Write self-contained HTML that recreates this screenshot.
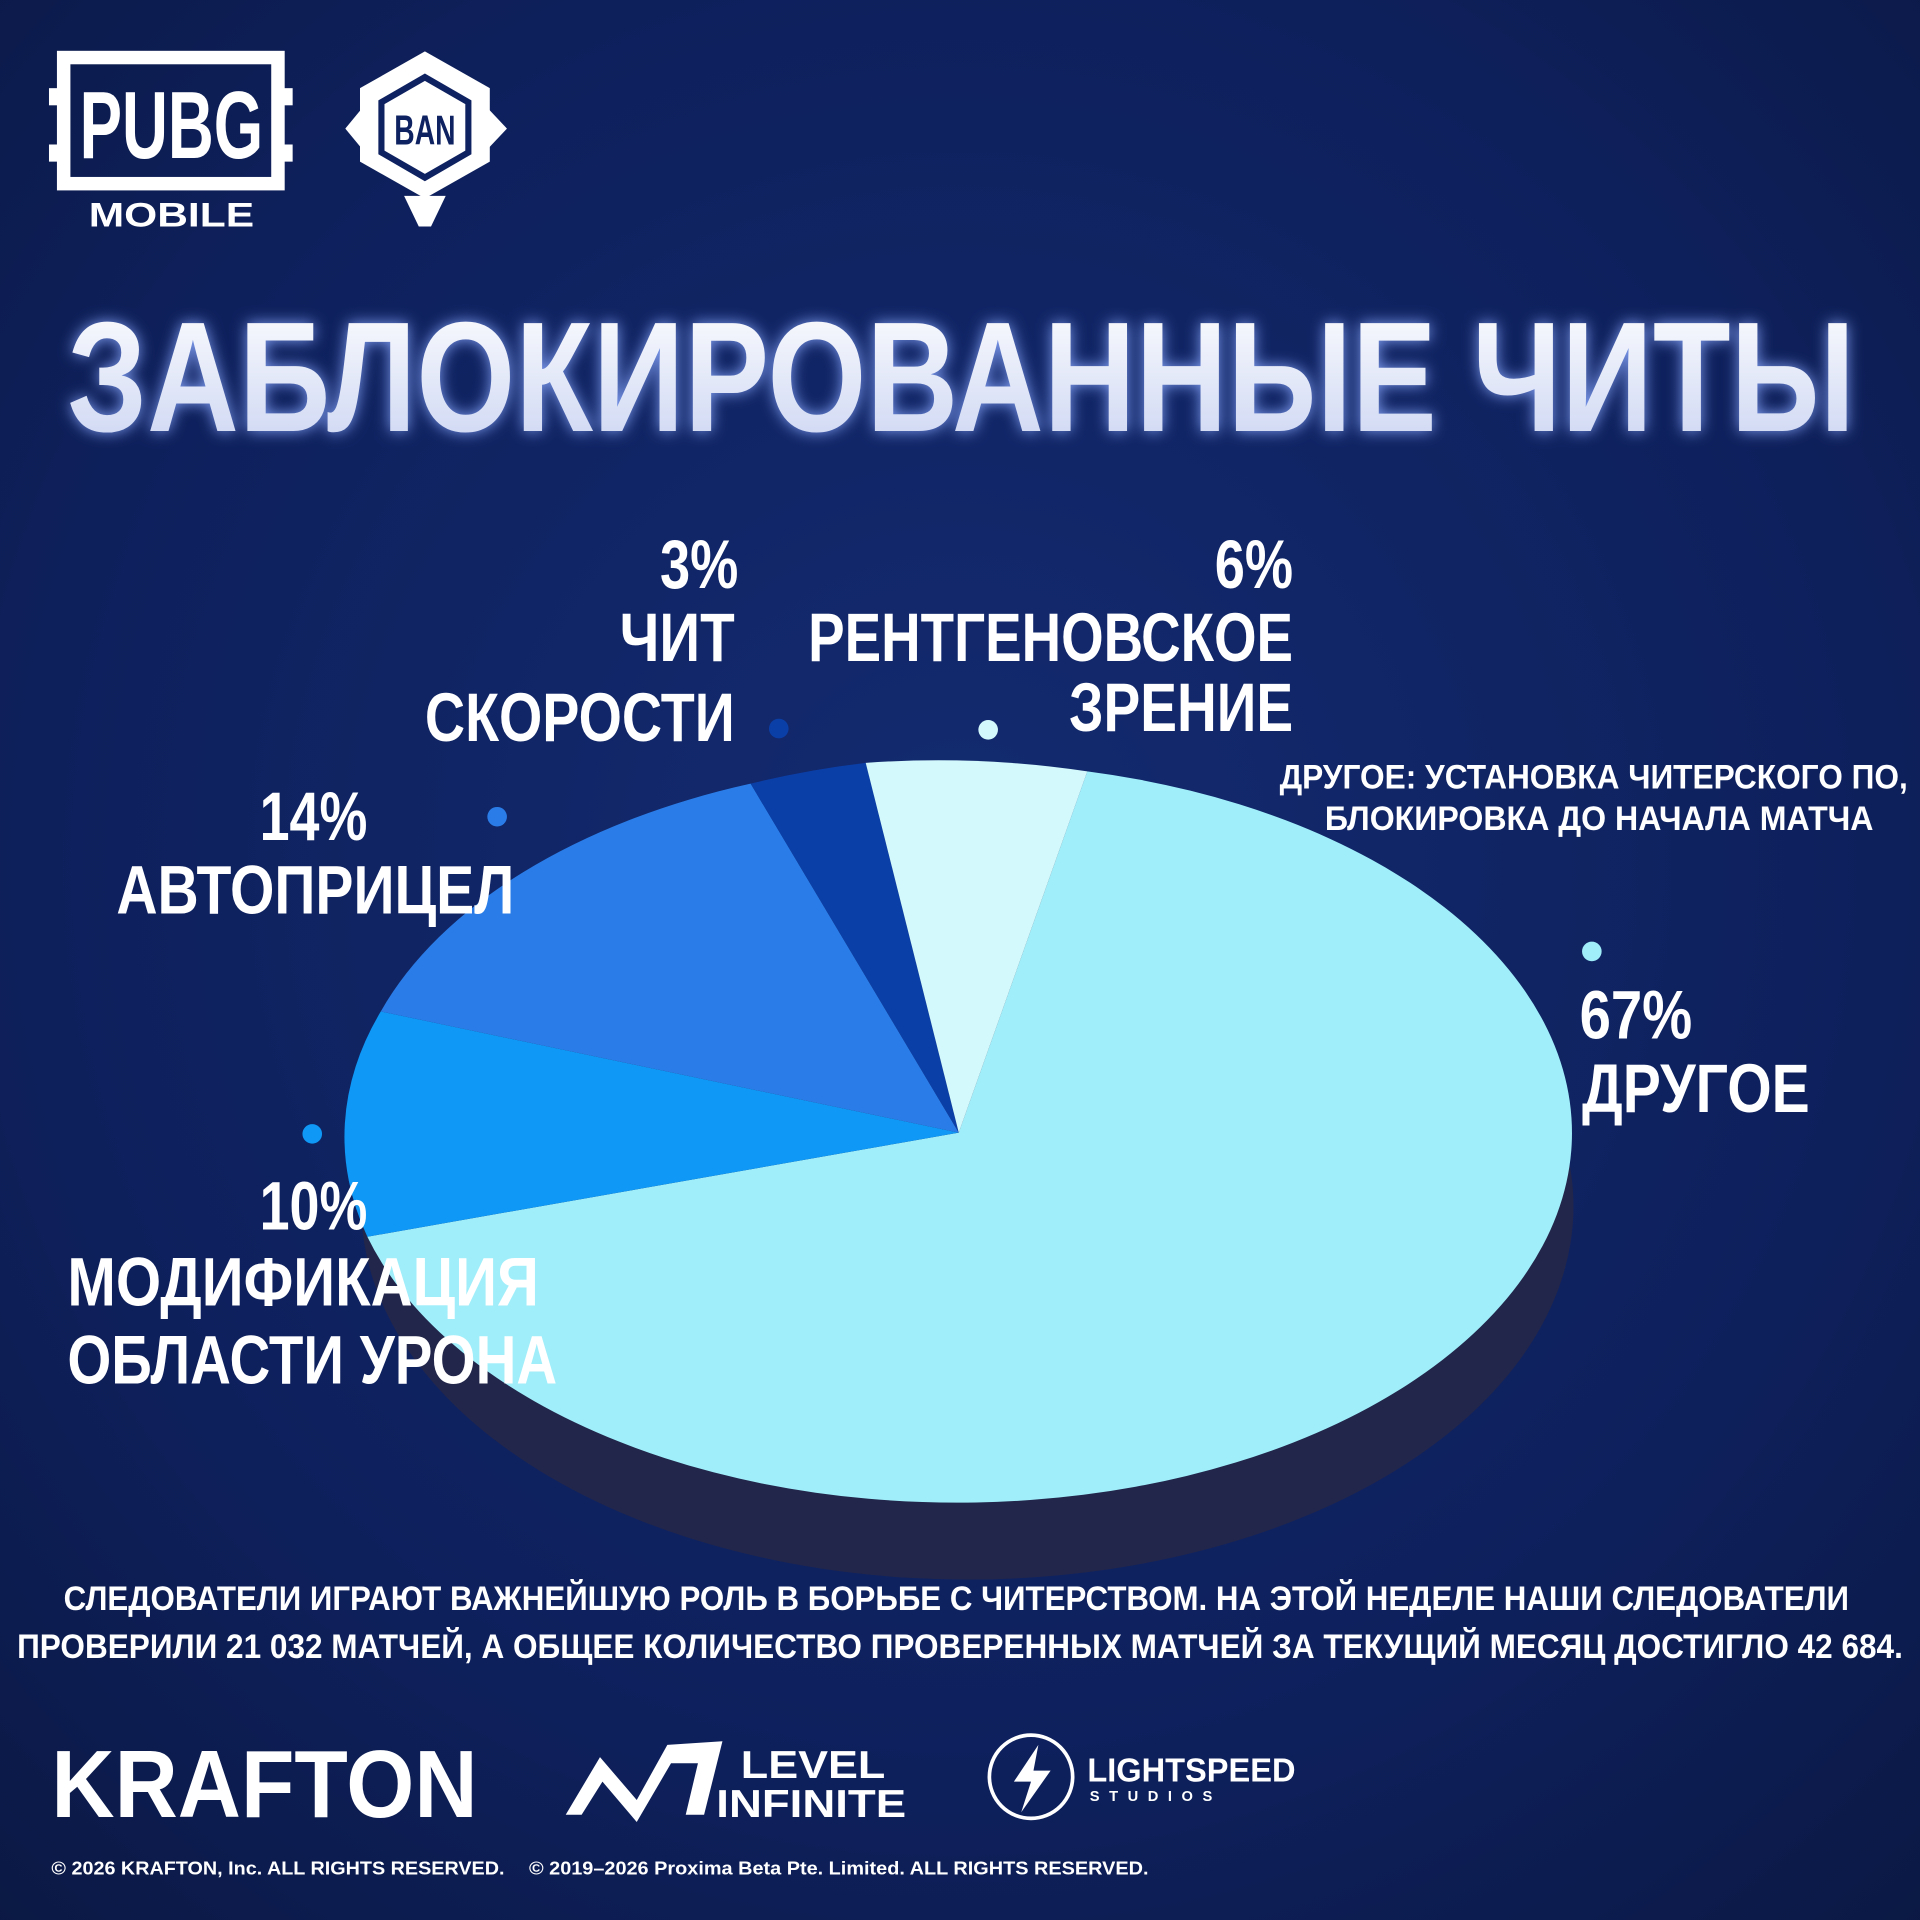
<!DOCTYPE html>
<html><head><meta charset="utf-8"><style>
html,body{margin:0;padding:0;background:#0b1740;}
svg{display:block;}
text{font-family:"Liberation Sans","Noto Sans CJK SC",sans-serif;font-weight:bold;fill:#fff;}
</style></head><body>
<svg width="1920" height="1920" viewBox="0 0 1568 1568" xmlns="http://www.w3.org/2000/svg">
<defs>
<radialGradient id="bg" cx="0.5" cy="0.45" r="0.8">
<stop offset="0" stop-color="#132b70"/><stop offset="0.6" stop-color="#0e205c"/><stop offset="1" stop-color="#0a173f"/>
</radialGradient>
<linearGradient id="tg" x1="0" y1="0" x2="0" y2="1"><stop offset="0" stop-color="#ffffff"/><stop offset="1" stop-color="#c9d3f2"/></linearGradient>
<filter id="glow"><feGaussianBlur stdDeviation="6"/></filter>
</defs>
<rect width="1568" height="1568" fill="url(#bg)"/>

<!-- PUBG logo -->
<rect x="52" y="47" width="175" height="103" fill="none" stroke="#fff" stroke-width="11"/>
<rect x="40" y="72" width="14" height="14" fill="#fff"/><rect x="40" y="118" width="14" height="14" fill="#fff"/>
<rect x="225" y="72" width="14" height="14" fill="#fff"/><rect x="225" y="118" width="14" height="14" fill="#fff"/>
<text x="140" y="129" font-size="78" text-anchor="middle" textLength="150" lengthAdjust="spacingAndGlyphs">PUBG</text>
<text x="140" y="185" font-size="28" text-anchor="middle" textLength="135" lengthAdjust="spacingAndGlyphs">MOBILE</text>
<!-- BAN badge -->
<polygon points="347,42 400,72 400,132 347,162 294,132 294,72" fill="#fff"/>
<polygon points="282,105 296,88 296,122" fill="#fff"/><polygon points="414,105 398,88 398,122" fill="#fff"/>
<polygon points="330,160 364,160 352,185 342,185" fill="#fff"/>
<polygon points="347,60 385,82 385,126 347,148 309,126 309,82" fill="#0e2160"/>
<polygon points="347,66 380,85 380,123 347,142 314,123 314,85" fill="#fff"/>
<text x="347" y="118" font-size="34" text-anchor="middle" style="fill:#0e2160" textLength="50" lengthAdjust="spacingAndGlyphs">BAN</text>

<!-- Title -->
<text x="785" y="352" font-size="128" text-anchor="middle" style="fill:#7f9cf0" filter="url(#glow)" textLength="1460" lengthAdjust="spacingAndGlyphs">ЗАБЛОКИРОВАННЫЕ ЧИТЫ</text>
<text x="785" y="352" font-size="128" text-anchor="middle" style="fill:url(#tg)" textLength="1460" lengthAdjust="spacingAndGlyphs">ЗАБЛОКИРОВАННЫЕ ЧИТЫ</text>

<!-- Pie shadow -->
<ellipse cx="790" cy="985" rx="495" ry="305" fill="#22264a"/>
<path d="M783,925 L888,630 A502,302 0 1 1 300,1010 Z" fill="#a0eefa"/>
<path d="M783,925 L300,1010 A502,302 0 0 1 311,826 Z" fill="#0f98f6"/>
<path d="M783,925 L311,826 A502,302 0 0 1 613,640 Z" fill="#2a7de8"/>
<path d="M783,925 L613,640 A502,302 0 0 1 707,623 Z" fill="#0b3fa8"/>
<path d="M783,925 L707,623 A502,302 0 0 1 888,630 Z" fill="#d3f9fc"/>

<circle cx="636" cy="595" r="8" fill="#0b3fa8"/>
<circle cx="807" cy="596" r="8" fill="#d3f9fc"/>
<circle cx="406" cy="667" r="8" fill="#2a7de8"/>
<circle cx="255" cy="926" r="8" fill="#0f98f6"/>
<circle cx="1300" cy="777" r="8" fill="#a0eefa"/>

<g font-size="56">
<text x="603" y="480" text-anchor="end" textLength="64" lengthAdjust="spacingAndGlyphs">3%</text>
<text x="600" y="540" text-anchor="end" textLength="94" lengthAdjust="spacingAndGlyphs">ЧИТ</text>
<text x="347" y="605" textLength="253" lengthAdjust="spacingAndGlyphs">СКОРОСТИ</text>
<text x="1056" y="480" text-anchor="end" textLength="64" lengthAdjust="spacingAndGlyphs">6%</text>
<text x="660" y="540" textLength="396" lengthAdjust="spacingAndGlyphs">РЕНТГЕНОВСКОЕ</text>
<text x="873" y="597" textLength="183" lengthAdjust="spacingAndGlyphs">ЗРЕНИЕ</text>
<text x="1290" y="848" textLength="92" lengthAdjust="spacingAndGlyphs">67%</text>
<text x="1292" y="908" textLength="186" lengthAdjust="spacingAndGlyphs">ДРУГОЕ</text>
<text x="212" y="686" textLength="88" lengthAdjust="spacingAndGlyphs">14%</text>
<text x="95" y="746" textLength="325" lengthAdjust="spacingAndGlyphs">АВТОПРИЦЕЛ</text>
<text x="212" y="1004" textLength="88" lengthAdjust="spacingAndGlyphs">10%</text>
<text x="55" y="1066" textLength="385" lengthAdjust="spacingAndGlyphs">МОДИФИКАЦИЯ</text>
<text x="55" y="1130" textLength="400" lengthAdjust="spacingAndGlyphs">ОБЛАСТИ УРОНА</text>
</g>
<g font-size="28">
<text x="1045" y="644" textLength="513" lengthAdjust="spacingAndGlyphs">ДРУГОЕ: УСТАНОВКА ЧИТЕРСКОГО ПО,</text>
<text x="1082" y="678" textLength="448" lengthAdjust="spacingAndGlyphs">БЛОКИРОВКА ДО НАЧАЛА МАТЧА</text>
<text x="52" y="1315" textLength="1458" lengthAdjust="spacingAndGlyphs">СЛЕДОВАТЕЛИ ИГРАЮТ ВАЖНЕЙШУЮ РОЛЬ В БОРЬБЕ С ЧИТЕРСТВОМ. НА ЭТОЙ НЕДЕЛЕ НАШИ СЛЕДОВАТЕЛИ</text>
<text x="14" y="1354" textLength="1540" lengthAdjust="spacingAndGlyphs">ПРОВЕРИЛИ 21 032 МАТЧЕЙ, А ОБЩЕЕ КОЛИЧЕСТВО ПРОВЕРЕННЫХ МАТЧЕЙ ЗА ТЕКУЩИЙ МЕСЯЦ ДОСТИГЛО 42 684.</text>
</g>

<text x="42" y="1484" font-size="78" textLength="348" lengthAdjust="spacingAndGlyphs">KRAFTON</text>
<path d="M462,1482 L490,1435 L520,1470 L545,1425 L590,1422 L575,1482 L560,1482 L570,1440 L548,1440 L520,1488 L492,1455 L475,1482 Z" fill="#fff"/>
<text x="605" y="1452" font-size="32" textLength="118" lengthAdjust="spacingAndGlyphs">LEVEL</text>
<text x="585" y="1484" font-size="32" textLength="155" lengthAdjust="spacingAndGlyphs">INFINITE</text>
<circle cx="842" cy="1451" r="34" fill="none" stroke="#fff" stroke-width="3"/>
<path d="M848,1425 L828,1455 L842,1455 L834,1480 L858,1446 L844,1446 Z" fill="#fff"/>
<text x="888" y="1455" font-size="27" textLength="170" lengthAdjust="spacingAndGlyphs">LIGHTSPEED</text>
<text x="890" y="1471" font-size="12" textLength="100" lengthAdjust="spacing">STUDIOS</text>
<text x="42" y="1531" font-size="15" textLength="370" lengthAdjust="spacingAndGlyphs">© 2026 KRAFTON, Inc. ALL RIGHTS RESERVED.</text>
<text x="432" y="1531" font-size="15" textLength="506" lengthAdjust="spacingAndGlyphs">© 2019–2026 Proxima Beta Pte. Limited. ALL RIGHTS RESERVED.</text>
</svg>
</body></html>
